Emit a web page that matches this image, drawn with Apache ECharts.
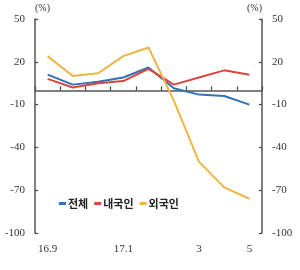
<!DOCTYPE html>
<html><head><meta charset="utf-8">
<script src="https://cdn.jsdelivr.net/npm/echarts@6/dist/echarts.min.js"></script>
<style>html,body{margin:0;padding:0;background:#fff}#c{width:300px;height:270px}</style>
</head><body><div id="c"></div>
<script>
const categories = ["16.9","16.10","16.11","16.12","17.1","17.2","17.3","17.4","17.5"];
const tickLabels = ["16.9","","","17.1","","","3","","5"];
const seriesNames = ["전체","내국인","외국인"];
const total    = [11, 4, 6, 9, 16, 1.5, -3, -4, -10];
const domestic = [8, 2, 5, 6.5, 15, 4, 9, 14, 11];
const foreign  = [24, 10, 12, 24, 30, -7, -50, -68, -76];
const colors = ["#2f72b8", "#d9463b", "#f0b445"];

const chart = echarts.init(document.getElementById('c'), null, {renderer:'canvas'});
const axisFont = {fontFamily:'Liberation Serif', fontSize:11, color:'#333'};
const yCommon = {
  type:'value', min:-100, max:50, interval:30,
  name:'(%)', nameLocation:'end', nameGap:6,
  axisLine:{show:true, lineStyle:{color:'#555', width:1.5}},
  axisTick:{show:true, inside:true, length:3, lineStyle:{color:'#444', width:1.2}},
  splitLine:{show:false},
  axisLabel:Object.assign({margin:10}, axisFont)
};
chart.setOption({
  animation:false,
  backgroundColor:'#fff',
  grid:{left:35, right:38, top:19, bottom:37},
  legend:{
    left:54, top:193, itemWidth:7, itemHeight:3, itemGap:6, icon:'rect',
    textStyle:{fontFamily:'Noto Sans CJK KR', fontWeight:'bold', fontSize:11, color:'#222', padding:[0,0,0,-3]},
    data:seriesNames
  },
  xAxis:[
    {type:'category', data:categories, position:'bottom', boundaryGap:true,
     axisLine:{show:false, onZero:false}, axisTick:{show:false},
     axisLabel:Object.assign({margin:11, interval:0, formatter:(v,i)=>tickLabels[i]}, axisFont)},
    {type:'category', data:categories, position:'top', boundaryGap:true,
     axisLine:{show:true, onZero:true, onZeroAxisIndex:0, lineStyle:{color:'#555', width:1.5}},
     axisTick:{show:true, inside:false, length:4, interval:0, lineStyle:{color:'#444', width:1.2}},
     axisLabel:{show:false}}
  ],
  yAxis:[
    Object.assign({}, yCommon, {position:'left', nameTextStyle:Object.assign({align:'left'}, axisFont, {fontSize:10})}),
    Object.assign({}, yCommon, {position:'right', nameTextStyle:Object.assign({align:'right'}, axisFont, {fontSize:10})})
  ],
  series:[
    {name:seriesNames[0], type:'line', data:total, symbol:'none', lineStyle:{width:2, color:colors[0]}, itemStyle:{color:colors[0]}},
    {name:seriesNames[1], type:'line', data:domestic, symbol:'none', lineStyle:{width:2, color:colors[1]}, itemStyle:{color:colors[1]}},
    {name:seriesNames[2], type:'line', data:foreign, symbol:'none', lineStyle:{width:2, color:colors[2]}, itemStyle:{color:colors[2]}}
  ]
});
</script></body></html>
